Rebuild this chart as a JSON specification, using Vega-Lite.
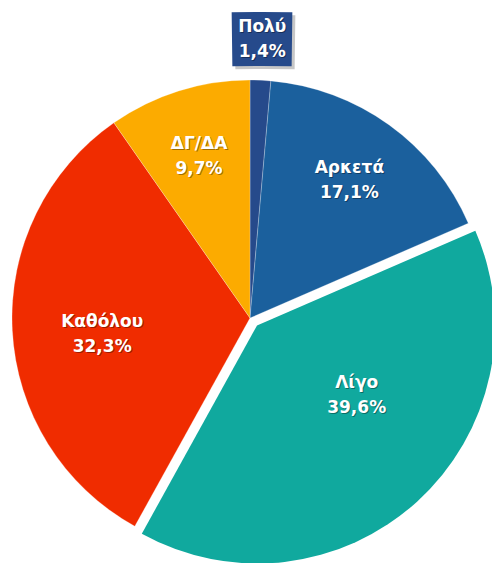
{
  "$schema": "https://vega.github.io/schema/vega-lite/v6.json",
  "width": 484,
  "height": 484,
  "autosize": {"type": "none"},
  "padding": {"left": 8, "top": 76, "right": 0, "bottom": 3},
  "background": "#ffffff",
  "config": {"view": {"stroke": null}},
  "data": {
    "values": [
      {"cat": "Πολύ", "value": 1.4, "pct": "1,4%", "rank": 1},
      {"cat": "Αρκετά", "value": 17.1, "pct": "17,1%", "rank": 2},
      {"cat": "Λίγο", "value": 39.6, "pct": "39,6%", "rank": 3},
      {"cat": "Καθόλου", "value": 32.3, "pct": "32,3%", "rank": 4},
      {"cat": "ΔΓ/ΔΑ", "value": 9.7, "pct": "9,7%", "rank": 5}
    ]
  },
  "encoding": {
    "theta": {"field": "value", "type": "quantitative", "stack": true},
    "order": {"field": "rank", "type": "quantitative"}
  },
  "layer": [
    {
      "transform": [{"filter": "datum.cat === 'Πολύ'"}],
      "mark": {"type": "arc", "color": "#000000", "opacity": 0.22, "xOffset": 15, "yOffset": 2003},
      "encoding": {
        "theta": {"value": -0.01316},
        "theta2": {"value": 0.01316},
        "radius": {"value": 2306},
        "radius2": {"value": 2252},
        "order": null
      }
    },
    {
      "transform": [{"filter": "datum.cat === 'Πολύ'"}],
      "mark": {"type": "arc", "color": "#264a8b", "xOffset": 12, "yOffset": 2000},
      "encoding": {
        "theta": {"value": -0.01316},
        "theta2": {"value": 0.01316},
        "radius": {"value": 2306},
        "radius2": {"value": 2252},
        "order": null
      }
    },
    {
      "mark": {"type": "arc", "radius": 238, "stroke": "#ffffff", "strokeWidth": 0.5, "strokeOpacity": 0.5},
      "encoding": {
        "color": {
          "field": "cat",
          "type": "nominal",
          "scale": {
            "domain": ["Πολύ", "Αρκετά", "Λίγο", "Καθόλου", "ΔΓ/ΔΑ"],
            "range": ["#264a8b", "#1b609d", "#10a99e", "#f02c00", "#fcab00"]
          },
          "legend": null
        },
        "opacity": {"condition": {"test": "datum.cat === 'Λίγο'", "value": 0}, "value": 1}
      }
    },
    {
      "mark": {"type": "arc", "radius": 238, "xOffset": 7, "yOffset": 7.5},
      "encoding": {
        "color": {"field": "cat", "type": "nominal", "legend": null},
        "opacity": {"condition": {"test": "datum.cat === 'Λίγο'", "value": 1}, "value": 0}
      }
    },
    {
      "mark": {"type": "text", "font": "DejaVu Sans", "fontSize": 17, "fontWeight": "bold", "fill": "#000000", "dx": {"expr": "datum.cat === 'Λίγο' ? 27 : 1"}, "dy": {"expr": "datum.cat === 'Καθόλου' ? -3 : datum.cat === 'Λίγο' ? -22.5 : -11"}},
      "encoding": {
        "text": {"field": "cat"},
        "radius": {"value": {"expr": "datum.cat === 'Καθόλου' ? 148 : datum.cat === 'Πολύ' ? 279 : datum.cat === 'Λίγο' ? 120 : 170"}},
        "opacity": {"value": 0.35}
      }
    },
    {
      "mark": {"type": "text", "font": "DejaVu Sans", "fontSize": 17, "fontWeight": "bold", "fill": "#000000", "dx": {"expr": "datum.cat === 'Λίγο' ? 27 : 1"}, "dy": {"expr": "datum.cat === 'Καθόλου' ? 22 : datum.cat === 'Λίγο' ? 2.5 : 14"}},
      "encoding": {
        "text": {"field": "pct"},
        "radius": {"value": {"expr": "datum.cat === 'Καθόλου' ? 148 : datum.cat === 'Πολύ' ? 279 : datum.cat === 'Λίγο' ? 120 : 170"}},
        "opacity": {"value": 0.35}
      }
    },
    {
      "mark": {"type": "text", "font": "DejaVu Sans", "fontSize": 17, "fontWeight": "bold", "fill": "#ffffff", "dx": {"expr": "datum.cat === 'Λίγο' ? 26 : 0"}, "dy": {"expr": "datum.cat === 'Καθόλου' ? -4 : datum.cat === 'Λίγο' ? -23.5 : -12"}},
      "encoding": {
        "text": {"field": "cat"},
        "radius": {"value": {"expr": "datum.cat === 'Καθόλου' ? 148 : datum.cat === 'Πολύ' ? 279 : datum.cat === 'Λίγο' ? 120 : 170"}}
      }
    },
    {
      "mark": {"type": "text", "font": "DejaVu Sans", "fontSize": 17, "fontWeight": "bold", "fill": "#ffffff", "dx": {"expr": "datum.cat === 'Λίγο' ? 26 : 0"}, "dy": {"expr": "datum.cat === 'Καθόλου' ? 21 : datum.cat === 'Λίγο' ? 1.5 : 13"}},
      "encoding": {
        "text": {"field": "pct"},
        "radius": {"value": {"expr": "datum.cat === 'Καθόλου' ? 148 : datum.cat === 'Πολύ' ? 279 : datum.cat === 'Λίγο' ? 120 : 170"}}
      }
    }
  ]
}
